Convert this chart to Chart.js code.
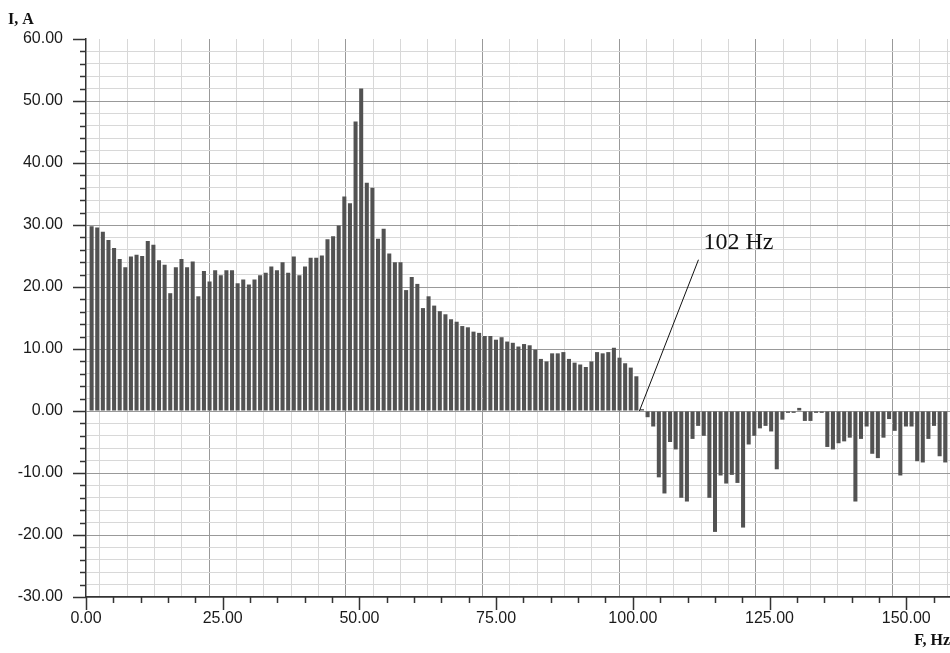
<!DOCTYPE html>
<html>
<head>
<meta charset="utf-8">
<script src="https://cdn.jsdelivr.net/npm/chart.js@4.4.1/dist/chart.umd.min.js"></script>
<style>
html, body { margin: 0; padding: 0; background: #fff; }
</style>
</head>
<body>
<canvas id="grafico-espectro" width="950" height="653"></canvas>
<script>
// distance between spectrum lines, Hz
var binStep = 1.027;

// current of each spectrum line, A (line 1, 2, 3 ...)
var corrente = [
    29.8, 29.6, 28.9, 27.6, 26.3, 24.5, 23.2, 24.9, 25.2, 25.0,
    27.4, 26.8, 24.3, 23.6, 19.0, 23.2, 24.5, 23.2, 24.1, 18.5,
    22.6, 20.9, 22.7, 21.9, 22.7, 22.7, 20.6, 21.2, 20.4, 21.2,
    21.9, 22.3, 23.3, 22.7, 24.0, 22.3, 24.9, 21.9, 23.3, 24.7,
    24.7, 25.1, 27.7, 28.2, 29.9, 34.6, 33.5, 46.7, 52.0, 36.8,
    36.0, 27.8, 29.4, 25.4, 24.0, 24.0, 19.5, 21.6, 20.5, 16.6,
    18.5, 17.0, 16.1, 15.6, 14.8, 14.4, 13.7, 13.5, 12.8, 12.6,
    12.1, 12.1, 11.5, 11.9, 11.2, 11.0, 10.4, 10.8, 10.6, 9.9,
    8.4, 8.0, 9.3, 9.3, 9.5, 8.4, 7.8, 7.5, 7.1, 8.0,
    9.5, 9.3, 9.5, 10.2, 8.6, 7.7, 7.0, 5.6, 0.3, -1.0,
    -2.5, -10.7, -13.3, -5.0, -6.2, -14.0, -14.6, -4.5, -2.4, -4.0,
    -14.0, -19.5, -10.4, -11.7, -10.3, -11.6, -18.8, -5.4, -4.0, -2.8,
    -2.4, -3.3, -9.4, -1.4, -0.3, -0.3, 0.5, -1.6, -1.6, -0.3,
    -0.3, -5.8, -6.2, -5.2, -4.9, -4.3, -14.6, -4.5, -2.5, -6.9,
    -7.6, -4.3, -1.3, -3.2, -10.4, -2.5, -2.5, -8.1, -8.3, -4.5,
    -2.4, -7.3, -8.3
];

var freq = corrente.map(function (v, i) { return (i + 1) * binStep; });

var xLabels = [0, 25, 50, 75, 100, 125, 150];
var yLabels = [-30, -20, -10, 0, 10, 20, 30, 40, 50, 60];

// annotation "102 Hz": text spot and line ends, in Hz / A
var marcaTexto = "102 Hz";
var marcaPosTexto = [112.9, 26.2];
var marcaLinha = [[112.0, 24.4], [101.2, 0]];

var pontos = freq.map(function (f, i) { return { x: f, y: corrente[i] }; });

var fonteTicks = { family: '"Liberation Sans", Arial, sans-serif', size: 16 };

function corGrade(c, passo, topo) {
    if (!c.tick) return "#d8d8d8";
    var valor = c.tick.value;
    if (valor === topo) return "rgba(0,0,0,0)";
    return valor % passo === 0 ? "#999999" : "#d8d8d8";
}

var extras = {
    id: "extras",
    afterDraw: function (chart) {
        var ctx = chart.ctx;
        var sx = chart.scales.x;
        var sy = chart.scales.y;
        var area = chart.chartArea;
        ctx.save();

        // tick marks, long on labelled values
        ctx.strokeStyle = "#333";
        ctx.lineWidth = 1.5;
        ctx.beginPath();
        sy.ticks.forEach(function (t) {
            var py = Math.round(sy.getPixelForValue(t.value)) + 0.5;
            var len = yLabels.indexOf(t.value) >= 0 ? 13 : 6;
            ctx.moveTo(area.left - len, py);
            ctx.lineTo(area.left, py);
        });
        sx.ticks.forEach(function (t) {
            if (t.value > sx.max - 1) return;
            var px = Math.round(sx.getPixelForValue(t.value)) + 0.5;
            var len = xLabels.indexOf(t.value) >= 0 ? 13 : 6;
            ctx.moveTo(px, area.bottom);
            ctx.lineTo(px, area.bottom + len);
        });
        ctx.stroke();

        // annotation
        ctx.strokeStyle = "#111";
        ctx.lineWidth = 1;
        ctx.beginPath();
        ctx.moveTo(sx.getPixelForValue(marcaLinha[0][0]), sy.getPixelForValue(marcaLinha[0][1]));
        ctx.lineTo(sx.getPixelForValue(marcaLinha[1][0]), sy.getPixelForValue(marcaLinha[1][1]));
        ctx.stroke();
        ctx.fillStyle = "#111";
        ctx.font = '24px "Liberation Serif", "Times New Roman", serif';
        ctx.textAlign = "left";
        ctx.textBaseline = "alphabetic";
        ctx.fillText(marcaTexto, sx.getPixelForValue(marcaPosTexto[0]), sy.getPixelForValue(marcaPosTexto[1]));

        // axis names
        ctx.font = 'bold 16px "Liberation Serif", "Times New Roman", serif';
        ctx.fillText("I, A", 8, 23.5);
        ctx.textAlign = "right";
        ctx.fillText("F, Hz", 950, 645);
        ctx.restore();
    }
};

var referencia = document.querySelector("#grafico-espectro").getContext("2d");

var grafico = new Chart(referencia, {
    type: "bar",
    data: {
        datasets: [{
            label: "I",
            data: pontos,
            backgroundColor: "#525252",
            borderWidth: 0,
            barPercentage: 0.72,
            categoryPercentage: 1.0
        }]
    },
    options: {
        responsive: false,
        animation: false,
        events: [],
        layout: { padding: { top: 39, right: 0, bottom: 0, left: 0 } },
        plugins: {
            legend: { display: false },
            tooltip: { enabled: false },
            title: { display: false }
        },
        scales: {
            x: {
                type: "linear",
                offset: false,
                min: 0,
                max: 158,
                afterFit: function (scale) { scale.height = 56; },
                ticks: {
                    stepSize: 5,
                    maxTicksLimit: 1000,
                    autoSkip: false,
                    maxRotation: 0,
                    includeBounds: false,
                    padding: 12,
                    color: "#1a1a1a",
                    font: fonteTicks,
                    callback: function (v) { return xLabels.indexOf(v) >= 0 ? v.toFixed(2) : ""; }
                },
                grid: {
                    drawTicks: false,
                    color: function (c) { return corGrade(c, 25, null); },
                    lineWidth: 1
                },
                border: { display: true, color: "#333", width: 1.5 }
            },
            y: {
                min: -30,
                max: 60,
                afterFit: function (scale) { scale.width = 86; },
                ticks: {
                    stepSize: 2,
                    maxTicksLimit: 1000,
                    autoSkip: false,
                    padding: 23,
                    color: "#1a1a1a",
                    font: fonteTicks,
                    callback: function (v) { return yLabels.indexOf(v) >= 0 ? v.toFixed(2) : ""; }
                },
                grid: {
                    drawTicks: false,
                    color: function (c) { return corGrade(c, 10, 60); },
                    lineWidth: 1
                },
                border: { display: true, color: "#333", width: 1.5 }
            }
        }
    },
    plugins: [extras]
});
</script>
</body>
</html>
